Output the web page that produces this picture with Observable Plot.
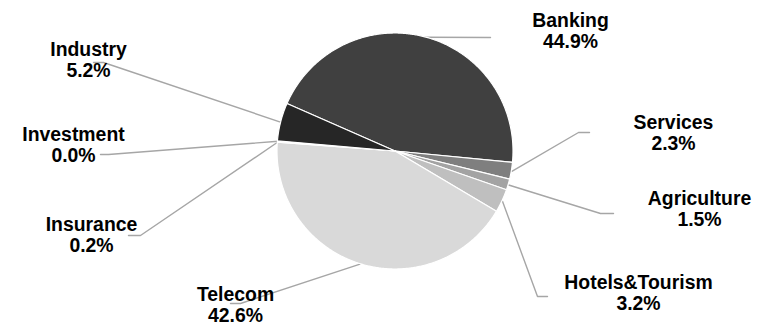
<!DOCTYPE html>
<html>
<head>
<meta charset="utf-8">
<script src="https://cdn.jsdelivr.net/npm/d3@7"></script>
<script src="https://cdn.jsdelivr.net/npm/@observablehq/plot@0.6"></script>
<style>
  html, body { margin: 0; padding: 0; background: #ffffff; }
  #chart { width: 758px; height: 326px; }
</style>
</head>
<body>
<div id="chart"></div>
<script>
// ---- data ----
const sectors = ["Banking", "Services", "Agriculture", "Hotels&Tourism", "Telecom", "Insurance", "Investment", "Industry"];
const shares  = [44.9, 2.3, 1.5, 3.2, 42.6, 0.2, 0.0, 5.2];

// ---- style ----
const sliceColors = ["#404040", "#7f7f7f", "#a3a3a3", "#bfbfbf", "#d9d9d9", "#f0f0f0", "#f2f2f2", "#262626"];

// ---- layout (pixel space of the 758x326 frame) ----
const W = 758, H = 326;
const pieCx = 395, pieCy = 151, pieR = 118;
const startDeg = -66.3;
const labelX = [570, 673, 699, 638, 235, 91, 73, 88];
const labelY = [30, 132, 208, 292, 304, 234, 144, 59];
const elbowX = [490, 578, 600, 537, 240, 140, 108, 103];
const elbowY = [37, 132, 213, 296, 303, 235, 154, 62];
const endX   = [490, 589, 613, 547, 230, 128, 100, 93];
const endY   = [37, 132, 213, 296, 303, 235, 154, 62];

const pie = d3.pie().sort(null).value(d => d)
  .startAngle(startDeg * Math.PI / 180)
  .endAngle(startDeg * Math.PI / 180 + 2 * Math.PI);
const arcs = pie(shares);

const pt = a => [pieCx + pieR * Math.sin(a), pieCy - pieR * Math.cos(a)];

// sector outlines
const sliceRows = [];
arcs.forEach((a, i) => {
  const n = Math.max(2, Math.ceil((a.endAngle - a.startAngle) / (Math.PI / 360)) + 1);
  for (let k = 0; k < n; k++) {
    const t = a.startAngle + (a.endAngle - a.startAngle) * k / (n - 1);
    const [x, y] = pt(t);
    sliceRows.push({name: sectors[i], x, y, cx: pieCx, cy: pieCy});
  }
});

// leader lines
const leaderRows = [];
arcs.forEach((a, i) => {
  const [x0, y0] = pt((a.startAngle + a.endAngle) / 2);
  leaderRows.push({name: sectors[i], x: x0, y: y0});
  leaderRows.push({name: sectors[i], x: elbowX[i], y: elbowY[i]});
  leaderRows.push({name: sectors[i], x: endX[i], y: endY[i]});
});

const labelRows = sectors.map((s, i) => ({
  name: s, x: labelX[i], y: labelY[i], text: `${s}\n${shares[i].toFixed(1)}%`
}));

const chart = Plot.plot({
  width: W, height: H,
  margin: 0,
  x: {domain: [0, W], range: [0, W], axis: null},
  y: {domain: [0, H], range: [0, H], axis: null},
  color: {domain: sectors, range: sliceColors},
  style: {background: "#ffffff"},
  marks: [
    Plot.line(leaderRows, {x: "x", y: "y", z: "name", stroke: "#a6a6a6", strokeWidth: 1.4}),
    Plot.area(sliceRows, {x1: "cx", y1: "cy", x2: "x", y2: "y", z: "name", fill: "name",
      stroke: "#ffffff", strokeWidth: 1.2, strokeLinejoin: "round"}),
    Plot.text(labelRows, {x: "x", y: "y", text: "text", textAnchor: "middle",
      fontSize: 19.4, fontWeight: "bold", fontFamily: "Liberation Sans, Arial, sans-serif",
      lineHeight: 1.13, fill: "#000000"})
  ]
});
document.getElementById("chart").appendChild(chart);
</script>
</body>
</html>
